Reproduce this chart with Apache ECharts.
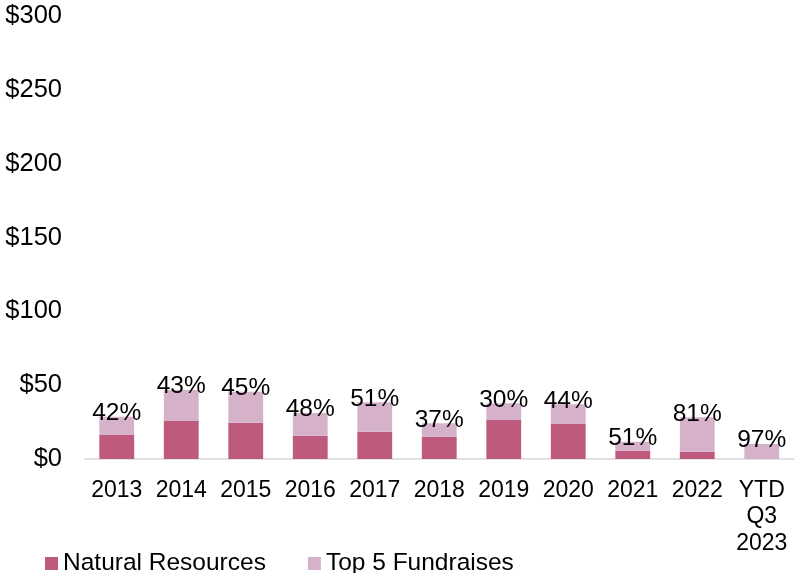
<!DOCTYPE html>
<html>
<head>
<meta charset="utf-8">
<script src="https://cdn.jsdelivr.net/npm/echarts@6/dist/echarts.min.js"></script>
<style>
html,body{margin:0;padding:0;background:#fff;}
#chart{width:799px;height:573px;}
</style>
</head>
<body>
<div id="chart"></div>
<script>
var categories = ['2013','2014','2015','2016','2017','2018','2019','2020','2021','2022','YTD\nQ3\n2023'];
var naturalResources = [16.2, 25.7, 24.6, 15.8, 18.5, 15.1, 26.4, 23.7, 5.6, 4.9, 0];
var top5Fundraises = [12.4, 21.0, 21.0, 15.3, 19.9, 9.1, 11.3, 13.3, 6.1, 23.3, 10.2];
var shareLabels = ['42%','43%','45%','48%','51%','37%','30%','44%','51%','81%','97%'];
var yTicks = [0, 50, 100, 150, 200, 250, 300];

var FONT = '"Liberation Sans", Arial, sans-serif';
var chart = echarts.init(document.getElementById('chart'), null, {renderer: 'canvas'});
chart.setOption({
  animation: false,
  backgroundColor: '#ffffff',
  textStyle: {fontFamily: FONT, color: '#000'},
  grid: {left: 84.5, right: 5, top: 16, bottom: 114},
  legend: {
    data: ['Natural Resources', 'Top 5 Fundraises'],
    left: 40, top: 546,
    icon: 'rect', itemWidth: 13, itemHeight: 13, itemGap: 42,
    textStyle: {fontFamily: FONT, fontSize: 24.5, color: '#000'}
  },
  xAxis: {
    type: 'category',
    data: categories,
    axisLine: {show: true, lineStyle: {color: '#d9d9d9', width: 1.5}},
    axisTick: {show: false},
    axisLabel: {interval: 0, margin: 18, fontSize: 23, lineHeight: 26.5, color: '#000', fontFamily: FONT}
  },
  yAxis: {
    type: 'value',
    min: yTicks[0], max: yTicks[yTicks.length - 1], interval: 50,
    axisLine: {show: false},
    axisTick: {show: false},
    splitLine: {show: false},
    axisLabel: {margin: 22.5, fontSize: 25.5, color: '#000', fontFamily: FONT, formatter: function (v) { return '$' + v; }}
  },
  series: [
    {
      name: 'Natural Resources', type: 'bar', stack: 'total',
      data: naturalResources, barWidth: '54%',
      itemStyle: {color: '#bd5a7d'}
    },
    {
      name: 'Top 5 Fundraises', type: 'bar', stack: 'total',
      data: top5Fundraises, barWidth: '54%',
      itemStyle: {color: '#d6b1ca'},
      label: {
        show: true, position: 'top', distance: 0, offset: [0, 9],
        fontSize: 24.5, color: '#000', fontFamily: FONT,
        formatter: function (p) { return shareLabels[p.dataIndex]; }
      }
    }
  ]
});
</script>
</body>
</html>
